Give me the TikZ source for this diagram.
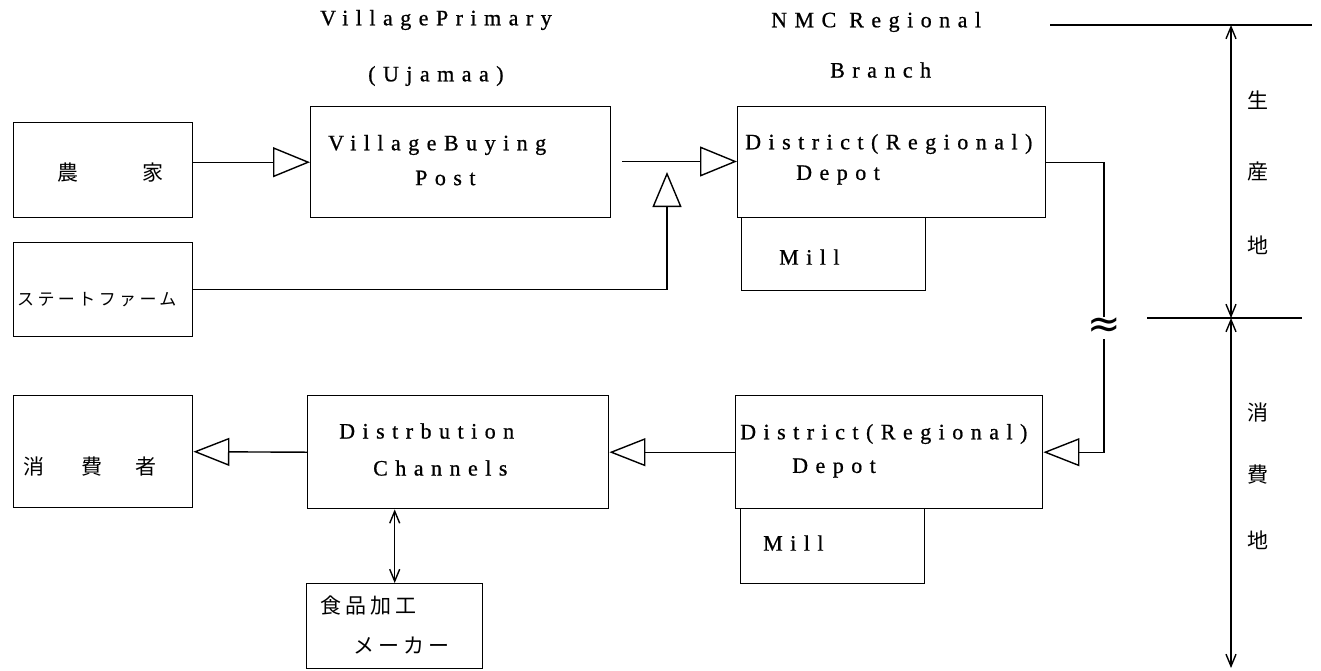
\documentclass[tikz,border=0pt]{standalone}
\usepackage{fontspec}
\newfontfamily\lsf{Liberation Serif}[LetterSpace=34, FakeBold=0.8]
\newfontfamily\jp{Noto Sans CJK JP}
\newfontfamily\jpls{Noto Sans CJK JP}[LetterSpace=20]
\newfontfamily\sym{DejaVu Sans}
\usetikzlibrary{arrows.meta}
\begin{document}
\begin{tikzpicture}[x=1pt,y=-1pt,
  box/.style={draw, line width=1.4pt, inner sep=0pt, anchor=north west},
  en/.style={font=\lsf\fontsize{22}{22}\selectfont, inner sep=0pt, anchor=west},
  ja/.style={font=\jp\fontsize{21}{21}\selectfont, inner sep=0pt},
  jals/.style={font=\jpls\fontsize{21}{21}\selectfont, inner sep=0pt, anchor=west},
  conn/.style={line width=1.4pt},
  tri/.style={conn, -{Triangle[open, length=37pt, width=30pt, line width=1.4pt]}},
  tris/.style={conn, -{Triangle[open, length=36pt, width=28pt, line width=1.4pt]}},
  dbl/.style={conn, {Straight Barb[length=12pt, width=10pt, line width=1.4pt]}-{Straight Barb[length=12pt, width=10pt, line width=1.4pt]}}]
\useasboundingbox (0,0) rectangle (1321,670);
\fill[white] (0,0) rectangle (1321,670);

% boxes
\node[box, minimum width=179pt, minimum height=95pt]  (farm)  at (13,122) {};
\node[box, minimum width=300pt, minimum height=111pt] (vbp)   at (310,106) {};
\node[box, minimum width=308pt, minimum height=111pt] (dep1)  at (737,106) {};
\node[box, minimum width=184pt, minimum height=73pt]  (mill1) at (741,217) {};
\node[box, minimum width=179pt, minimum height=94pt]  (state) at (13,242) {};
\node[box, minimum width=179pt, minimum height=112pt] (cons)  at (13,395) {};
\node[box, minimum width=301pt, minimum height=113pt] (dist)  at (307,395) {};
\node[box, minimum width=307pt, minimum height=113pt] (dep2)  at (735,395) {};
\node[box, minimum width=184pt, minimum height=75pt]  (mill2) at (740,508) {};
\node[box, minimum width=176pt, minimum height=85pt]  (food)  at (306,583) {};

% top labels
\node[en] (lvp)  at (320,20)  {VillagePrimary};
\node[en] (luj)  at (368,76)  {(Ujamaa)};
\node[en] (lnmc) at (771,22)  {NMC Regional};
\node[en] (lbr)  at (830,70)  {Branch};

% box texts
\node[ja] (tfarm) at (110,173) {農\hspace{64pt}家};
\node[en] (tvb1) at (328,145) {VillageBuying};
\node[en] (tvb2) at (415,178) {Post};
\node[en] (td11) at (745,144) {District(Regional)};
\node[en] (td12) at (796,175) {Depot};
\node[en] (tm1)  at (779,257) {Mill};
\node[font=\jpls\fontsize{17}{17}\selectfont, inner sep=0pt, anchor=west] (tstate) at (17,300) {ステートファーム};
\node[ja] (tcons) at (90,467) {消\hspace{38pt}費\hspace{33pt}者};
\node[en] (tdc1) at (339,431) {Distrbution};
\node[en] (tdc2) at (373,468) {Channels};
\node[en] (td21) at (740,434) {District(Regional)};
\node[en] (td22) at (792,468) {Depot};
\node[en] (tm2)  at (763,543) {Mill};
\node[jals] (tfood1) at (320,606) {食品加工};
\node[jals] (tfood2) at (353,646) {メーカー};

% connectors
\draw[tri] (farm.east |- vbp.west) -- (vbp.west);
\coordinate (a2s) at (622,161.5);
\draw[tri] (a2s) -- (dep1.west |- a2s);
\coordinate (uptip) at (667,172);
\draw[conn, -{Triangle[open, length=35pt, width=29pt, line width=1.4pt]}] (state.east) -| (uptip);
\coordinate (bend) at (1104,300);
\draw[tris] (dep1.east) -| (bend) |- (dep2.east);
\node[fill=white, inner sep=1pt, font=\sym\fontsize{40}{40}\selectfont] (wave) at (1104,328) {≈};
\draw[tris] (dep2.west) -- (dist.east);
\draw[tris] (dist.west) -- (cons.east);
\draw[dbl] (dist.south -| food.north) -- (food.north);

% right scale
\coordinate (tl1) at (1050,25);
\coordinate (tl2) at (1312,25);
\coordinate (ml1) at (1147,318);
\coordinate (ml2) at (1302,318);
\coordinate (ab)  at (1231,668);
\draw[conn] (tl1) -- (tl2);
\draw[conn] (ml1) -- (ml2);
\draw[dbl] (tl1 -| ab) -- (ml1 -| ab);
\draw[dbl] (ml1 -| ab) -- (ab);
\node[ja] (s1) at (1258,100) {生};
\node[ja] (s2) at (1258,172) {産};
\node[ja] (s3) at (1258,245) {地};
\node[ja] (c1) at (1258,412) {消};
\node[ja] (c2) at (1258,475) {費};
\node[ja] (c3) at (1258,540) {地};
\end{tikzpicture}
\end{document}
